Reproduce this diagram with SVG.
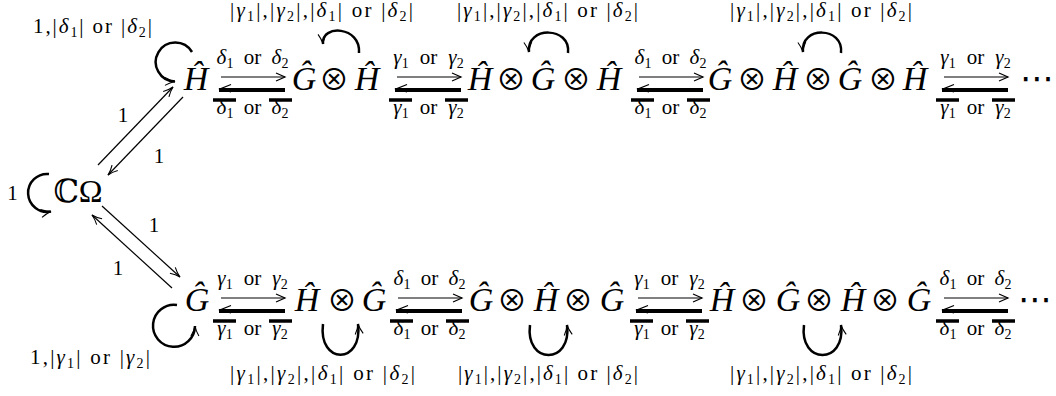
<svg xmlns="http://www.w3.org/2000/svg" width="1056" height="396" viewBox="0 0 1056 396">
<defs>
<style>
.m{font-family:'Liberation Serif','DejaVu Serif',serif;font-style:italic;font-size:34px;text-anchor:middle;fill:#000}
.up{font-family:'Liberation Serif','DejaVu Serif',serif;font-size:32px;text-anchor:middle;fill:#000}
.op{font-family:'Noto Sans CJK SC','DejaVu Sans',sans-serif;font-size:30px;text-anchor:middle;fill:#000}
.dt{font-family:'DejaVu Sans',sans-serif;font-size:34px;text-anchor:middle;fill:#000}
.lb{font-family:'Liberation Serif','DejaVu Serif',serif;font-size:21px;fill:#000}
.c{text-anchor:middle}
.gr{font-style:italic}
.sub{font-size:14px}
.thin{stroke:#000;stroke-width:1.2;fill:none}
.thick{stroke:#000;stroke-width:4;fill:none}
.bar{stroke:#000;stroke-width:3.5;fill:none}
.loop{stroke:#000;stroke-width:2.5;fill:none}
.hd{stroke:#000;stroke-width:1.2;fill:none}
</style>
<marker id="ah" viewBox="0 0 12 12" refX="11" refY="6" markerWidth="12" markerHeight="12" markerUnits="userSpaceOnUse" orient="auto"><path d="M1,2 Q6,5 11,6 Q6,7 1,10" fill="none" stroke="#000" stroke-width="1.1"/></marker>
</defs>
<rect width="1056" height="396" fill="#fff"/>

<g id="nodes">
<g id="node-CO"><text class="up" x="78" y="202">ℂΩ</text></g>
<g id="node-T1"><text class="m" x="196" y="90">Ĥ</text></g>
<g id="node-T2"><text class="m" x="304" y="90">Ĝ</text><text class="op" x="334" y="90">⊗</text><text class="m" x="367" y="90">Ĥ</text></g>
<g id="node-T3"><text class="m" x="480" y="90">Ĥ</text><text class="op" x="511" y="90">⊗</text><text class="m" x="543" y="90">Ĝ</text><text class="op" x="576" y="90">⊗</text><text class="m" x="609" y="90">Ĥ</text></g>
<g id="node-T4"><text class="m" x="720" y="90">Ĝ</text><text class="op" x="752" y="90">⊗</text><text class="m" x="785" y="90">Ĥ</text><text class="op" x="818" y="90">⊗</text><text class="m" x="850" y="90">Ĝ</text><text class="op" x="883" y="90">⊗</text><text class="m" x="915" y="90">Ĥ</text></g>
<g id="node-T5"><text class="dt" x="1037" y="90">⋯</text></g>
<g id="node-B1"><text class="m" x="197" y="311">Ĝ</text></g>
<g id="node-B2"><text class="m" x="307" y="311">Ĥ</text><text class="op" x="342" y="311">⊗</text><text class="m" x="374" y="311">Ĝ</text></g>
<g id="node-B3"><text class="m" x="481" y="311">Ĝ</text><text class="op" x="512" y="311">⊗</text><text class="m" x="546" y="311">Ĥ</text><text class="op" x="578" y="311">⊗</text><text class="m" x="612" y="311">Ĝ</text></g>
<g id="node-B4"><text class="m" x="722" y="311">Ĥ</text><text class="op" x="754" y="311">⊗</text><text class="m" x="788" y="311">Ĝ</text><text class="op" x="819" y="311">⊗</text><text class="m" x="853" y="311">Ĥ</text><text class="op" x="885" y="311">⊗</text><text class="m" x="919" y="311">Ĝ</text></g>
<g id="node-B5"><text class="dt" x="1035" y="311">⋯</text></g>
</g>

<g id="connectors">
<!-- diagonal arrows -->
<g id="e-CO-T1"><path class="thin" d="M98,165 L173,87" marker-end="url(#ah)"/><text class="lb c" x="123" y="122">1</text></g>
<g id="e-T1-CO"><path class="thin" d="M183,97 L108,175" marker-end="url(#ah)"/><text class="lb c" x="159" y="163">1</text></g>
<g id="e-CO-B1"><path class="thin" d="M102,206 L180,277" marker-end="url(#ah)"/><text class="lb c" x="154" y="232">1</text></g>
<g id="e-B1-CO"><path class="thin" d="M172,288 L92,215" marker-end="url(#ah)"/><text class="lb c" x="118" y="275">1</text></g>

<!-- self loops -->
<g id="loop-CO"><path class="loop" d="M49,174 A19,19 0 1 0 51,211.5" marker-end="url(#ah)"/><text class="lb c" x="12.5" y="200">1</text></g>
<g id="loop-T1"><path class="loop" d="M192,52 A19.5,19.5 0 1 0 175,81.5" marker-end="url(#ah)"/>
<text class="lb" x="33" y="33" textLength="119" lengthAdjust="spacing">1,|<tspan class="gr">δ</tspan><tspan class="sub" dy="4">1</tspan><tspan dy="-4">| or |</tspan><tspan class="gr">δ</tspan><tspan class="sub" dy="4">2</tspan><tspan dy="-4">|</tspan></text></g>
<g id="loop-B1"><path class="loop" d="M177,305 A21,21 0 1 0 195,326" marker-end="url(#ah)"/>
<text class="lb" x="30" y="364" textLength="120" lengthAdjust="spacing">1,|<tspan class="gr">γ</tspan><tspan class="sub" dy="4">1</tspan><tspan dy="-4">| or |</tspan><tspan class="gr">γ</tspan><tspan class="sub" dy="4">2</tspan><tspan dy="-4">|</tspan></text></g>

<g id="loop-T2"><path class="loop" d="M359,53 C361,26 321,24 323,44" marker-end="url(#ah)"/>
<text class="lb" x="230" y="17" textLength="183" lengthAdjust="spacing">|<tspan class="gr">γ</tspan><tspan class="sub" dy="4">1</tspan><tspan dy="-4">|,|</tspan><tspan class="gr">γ</tspan><tspan class="sub" dy="4">2</tspan><tspan dy="-4">|,|</tspan><tspan class="gr">δ</tspan><tspan class="sub" dy="4">1</tspan><tspan dy="-4">| or |</tspan><tspan class="gr">δ</tspan><tspan class="sub" dy="4">2</tspan><tspan dy="-4">|</tspan></text></g>
<g id="loop-T3"><path class="loop" d="M568,53 C571,26 526,26 529,52" marker-end="url(#ah)"/>
<text class="lb" x="457" y="17" textLength="181" lengthAdjust="spacing">|<tspan class="gr">γ</tspan><tspan class="sub" dy="4">1</tspan><tspan dy="-4">|,|</tspan><tspan class="gr">γ</tspan><tspan class="sub" dy="4">2</tspan><tspan dy="-4">|,|</tspan><tspan class="gr">δ</tspan><tspan class="sub" dy="4">1</tspan><tspan dy="-4">| or |</tspan><tspan class="gr">δ</tspan><tspan class="sub" dy="4">2</tspan><tspan dy="-4">|</tspan></text></g>
<g id="loop-T4"><path class="loop" d="M841,53 C844,26 800,26 803,52" marker-end="url(#ah)"/>
<text class="lb" x="730" y="17" textLength="182" lengthAdjust="spacing">|<tspan class="gr">γ</tspan><tspan class="sub" dy="4">1</tspan><tspan dy="-4">|,|</tspan><tspan class="gr">γ</tspan><tspan class="sub" dy="4">2</tspan><tspan dy="-4">|,|</tspan><tspan class="gr">δ</tspan><tspan class="sub" dy="4">1</tspan><tspan dy="-4">| or |</tspan><tspan class="gr">δ</tspan><tspan class="sub" dy="4">2</tspan><tspan dy="-4">|</tspan></text></g>

<g id="loop-B2"><path class="loop" d="M323,324 C318,365 363,365 358,324" marker-end="url(#ah)"/>
<text class="lb" x="230" y="380" textLength="185" lengthAdjust="spacing">|<tspan class="gr">γ</tspan><tspan class="sub" dy="4">1</tspan><tspan dy="-4">|,|</tspan><tspan class="gr">γ</tspan><tspan class="sub" dy="4">2</tspan><tspan dy="-4">|,|</tspan><tspan class="gr">δ</tspan><tspan class="sub" dy="4">1</tspan><tspan dy="-4">| or |</tspan><tspan class="gr">δ</tspan><tspan class="sub" dy="4">2</tspan><tspan dy="-4">|</tspan></text></g>
<g id="loop-B3"><path class="loop" d="M530,325 C525,365 572,365 567,325" marker-end="url(#ah)"/>
<text class="lb" x="458" y="380" textLength="180" lengthAdjust="spacing">|<tspan class="gr">γ</tspan><tspan class="sub" dy="4">1</tspan><tspan dy="-4">|,|</tspan><tspan class="gr">γ</tspan><tspan class="sub" dy="4">2</tspan><tspan dy="-4">|,|</tspan><tspan class="gr">δ</tspan><tspan class="sub" dy="4">1</tspan><tspan dy="-4">| or |</tspan><tspan class="gr">δ</tspan><tspan class="sub" dy="4">2</tspan><tspan dy="-4">|</tspan></text></g>
<g id="loop-B4"><path class="loop" d="M804,325 C799,365 846,365 841,325" marker-end="url(#ah)"/>
<text class="lb" x="730" y="380" textLength="182" lengthAdjust="spacing">|<tspan class="gr">γ</tspan><tspan class="sub" dy="4">1</tspan><tspan dy="-4">|,|</tspan><tspan class="gr">γ</tspan><tspan class="sub" dy="4">2</tspan><tspan dy="-4">|,|</tspan><tspan class="gr">δ</tspan><tspan class="sub" dy="4">1</tspan><tspan dy="-4">| or |</tspan><tspan class="gr">δ</tspan><tspan class="sub" dy="4">2</tspan><tspan dy="-4">|</tspan></text></g>

<!-- double arrows, top row -->
<g id="e-T1-T2">
<path class="thin" d="M221,77 H285"/><path class="hd" d="M276,73 L285,77 L276,81"/>
<path class="thick" d="M219,90 H285"/><path class="hd" d="M231,84.5 L220,89 L231,92"/>
<path class="bar" d="M213,100 H236 M269,100 H292"/>
<text class="lb c" x="225" y="64"><tspan class="gr">δ</tspan><tspan class="sub" dy="4">1</tspan></text><text class="lb c" x="252.5" y="64">or</text><text class="lb c" x="280" y="64"><tspan class="gr">δ</tspan><tspan class="sub" dy="4">2</tspan></text>
<text class="lb c" x="225" y="114"><tspan class="gr">δ</tspan><tspan class="sub" dy="4">1</tspan></text><text class="lb c" x="252.5" y="114">or</text><text class="lb c" x="280" y="114"><tspan class="gr">δ</tspan><tspan class="sub" dy="4">2</tspan></text>
</g>
<g id="e-T2-T3">
<path class="thin" d="M397,77 H461"/><path class="hd" d="M452,73 L461,77 L452,81"/>
<path class="thick" d="M395,90 H461"/><path class="hd" d="M407,84.5 L396,89 L407,92"/>
<path class="bar" d="M389,100 H412 M445,100 H468"/>
<text class="lb c" x="401" y="64"><tspan class="gr">γ</tspan><tspan class="sub" dy="4">1</tspan></text><text class="lb c" x="428.5" y="64">or</text><text class="lb c" x="456" y="64"><tspan class="gr">γ</tspan><tspan class="sub" dy="4">2</tspan></text>
<text class="lb c" x="401" y="114"><tspan class="gr">γ</tspan><tspan class="sub" dy="4">1</tspan></text><text class="lb c" x="428.5" y="114">or</text><text class="lb c" x="456" y="114"><tspan class="gr">γ</tspan><tspan class="sub" dy="4">2</tspan></text>
</g>
<g id="e-T3-T4">
<path class="thin" d="M639,77 H703"/><path class="hd" d="M694,73 L703,77 L694,81"/>
<path class="thick" d="M637,90 H703"/><path class="hd" d="M649,84.5 L638,89 L649,92"/>
<path class="bar" d="M631,100 H654 M687,100 H710"/>
<text class="lb c" x="643" y="64"><tspan class="gr">δ</tspan><tspan class="sub" dy="4">1</tspan></text><text class="lb c" x="670.5" y="64">or</text><text class="lb c" x="698" y="64"><tspan class="gr">δ</tspan><tspan class="sub" dy="4">2</tspan></text>
<text class="lb c" x="643" y="114"><tspan class="gr">δ</tspan><tspan class="sub" dy="4">1</tspan></text><text class="lb c" x="670.5" y="114">or</text><text class="lb c" x="698" y="114"><tspan class="gr">δ</tspan><tspan class="sub" dy="4">2</tspan></text>
</g>
<g id="e-T4-T5">
<path class="thin" d="M944,77 H1008"/><path class="hd" d="M999,73 L1008,77 L999,81"/>
<path class="thick" d="M942,90 H1008"/><path class="hd" d="M954,84.5 L943,89 L954,92"/>
<path class="bar" d="M936,100 H959 M992,100 H1015"/>
<text class="lb c" x="948" y="64"><tspan class="gr">γ</tspan><tspan class="sub" dy="4">1</tspan></text><text class="lb c" x="975.5" y="64">or</text><text class="lb c" x="1003" y="64"><tspan class="gr">γ</tspan><tspan class="sub" dy="4">2</tspan></text>
<text class="lb c" x="948" y="114"><tspan class="gr">γ</tspan><tspan class="sub" dy="4">1</tspan></text><text class="lb c" x="975.5" y="114">or</text><text class="lb c" x="1003" y="114"><tspan class="gr">γ</tspan><tspan class="sub" dy="4">2</tspan></text>
</g>

<!-- double arrows, bottom row -->
<g id="e-B1-B2">
<path class="thin" d="M221,298 H285"/><path class="hd" d="M276,294 L285,298 L276,302"/>
<path class="thick" d="M219,311 H285"/><path class="hd" d="M231,305.5 L220,310 L231,313"/>
<path class="bar" d="M213,321 H236 M269,321 H292"/>
<text class="lb c" x="225" y="285"><tspan class="gr">γ</tspan><tspan class="sub" dy="4">1</tspan></text><text class="lb c" x="252.5" y="285">or</text><text class="lb c" x="280" y="285"><tspan class="gr">γ</tspan><tspan class="sub" dy="4">2</tspan></text>
<text class="lb c" x="225" y="335"><tspan class="gr">γ</tspan><tspan class="sub" dy="4">1</tspan></text><text class="lb c" x="252.5" y="335">or</text><text class="lb c" x="280" y="335"><tspan class="gr">γ</tspan><tspan class="sub" dy="4">2</tspan></text>
</g>
<g id="e-B2-B3">
<path class="thin" d="M398,298 H462"/><path class="hd" d="M453,294 L462,298 L453,302"/>
<path class="thick" d="M396,311 H462"/><path class="hd" d="M408,305.5 L397,310 L408,313"/>
<path class="bar" d="M390,321 H413 M446,321 H469"/>
<text class="lb c" x="402" y="285"><tspan class="gr">δ</tspan><tspan class="sub" dy="4">1</tspan></text><text class="lb c" x="429.5" y="285">or</text><text class="lb c" x="457" y="285"><tspan class="gr">δ</tspan><tspan class="sub" dy="4">2</tspan></text>
<text class="lb c" x="402" y="335"><tspan class="gr">δ</tspan><tspan class="sub" dy="4">1</tspan></text><text class="lb c" x="429.5" y="335">or</text><text class="lb c" x="457" y="335"><tspan class="gr">δ</tspan><tspan class="sub" dy="4">2</tspan></text>
</g>
<g id="e-B3-B4">
<path class="thin" d="M638,298 H702"/><path class="hd" d="M693,294 L702,298 L693,302"/>
<path class="thick" d="M636,311 H702"/><path class="hd" d="M648,305.5 L637,310 L648,313"/>
<path class="bar" d="M630,321 H653 M686,321 H709"/>
<text class="lb c" x="642" y="285"><tspan class="gr">γ</tspan><tspan class="sub" dy="4">1</tspan></text><text class="lb c" x="669.5" y="285">or</text><text class="lb c" x="697" y="285"><tspan class="gr">γ</tspan><tspan class="sub" dy="4">2</tspan></text>
<text class="lb c" x="642" y="335"><tspan class="gr">γ</tspan><tspan class="sub" dy="4">1</tspan></text><text class="lb c" x="669.5" y="335">or</text><text class="lb c" x="697" y="335"><tspan class="gr">γ</tspan><tspan class="sub" dy="4">2</tspan></text>
</g>
<g id="e-B4-B5">
<path class="thin" d="M944,298 H1008"/><path class="hd" d="M999,294 L1008,298 L999,302"/>
<path class="thick" d="M942,311 H1008"/><path class="hd" d="M954,305.5 L943,310 L954,313"/>
<path class="bar" d="M936,321 H959 M992,321 H1015"/>
<text class="lb c" x="948" y="285"><tspan class="gr">δ</tspan><tspan class="sub" dy="4">1</tspan></text><text class="lb c" x="975.5" y="285">or</text><text class="lb c" x="1003" y="285"><tspan class="gr">δ</tspan><tspan class="sub" dy="4">2</tspan></text>
<text class="lb c" x="948" y="335"><tspan class="gr">δ</tspan><tspan class="sub" dy="4">1</tspan></text><text class="lb c" x="975.5" y="335">or</text><text class="lb c" x="1003" y="335"><tspan class="gr">δ</tspan><tspan class="sub" dy="4">2</tspan></text>
</g>
</g>
</svg>
